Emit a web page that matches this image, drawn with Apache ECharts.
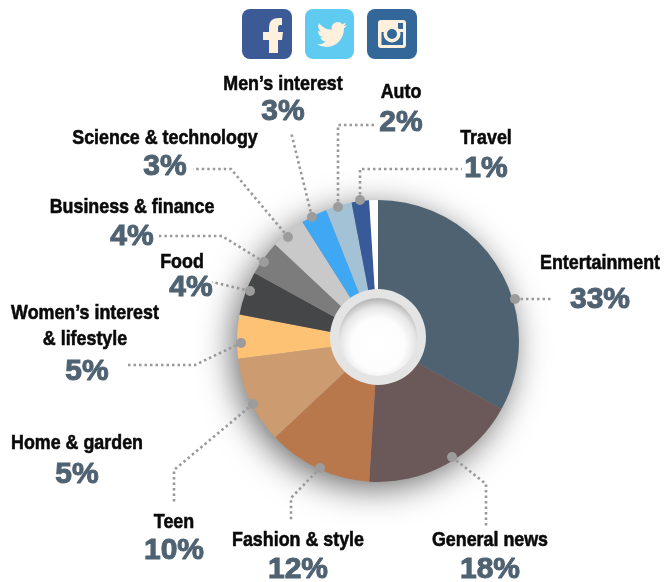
<!DOCTYPE html>
<html><head><meta charset="utf-8">
<style>html,body{margin:0;padding:0;background:#fff}#c{width:664px;height:582px}</style>
<script src="https://cdn.jsdelivr.net/npm/echarts@6/dist/echarts.min.js"></script>
</head><body><div id="c"></div>
<script>
const categories=["Entertainment","General news","Fashion & style","Teen","Women’s interest\n& lifestyle","Home & garden","Food","Business & finance","Science & technology","Men’s interest","Auto","Travel"];
const values=[33,18,12,10,5,5,4,4,3,3,2,1];
const sliceColors=["#4f6272","#6b5858","#b9784b","#cc9c70","#fdc274","#454648","#7c7c7c","#c9c9c9","#3ea8f5","#a3c2d6","#385a98","#ffffff"];
const nameAt=[[600,263],[490,540],[298,540],[174,522],[85,326],[77,443],[182,262],[132,207],[165,138],[283,84],[401,92],[486,138]];
const valueAt=[[600,300],[490,570],[298,570],[174,551],[87,372],[77,475],[191,288],[132,237],[165,167],[283,112],[401,123],[486,169]];
const leaders=[
 [[515,299],[553,299]],
 [[452,457],[486,484],[486,527]],
 [[320,468],[291,498],[291,520]],
 [[253,404],[174,470],[174,503]],
 [[241,343],[195,365],[128,365]],
 null,
 [[250,291],[212,282]],
 [[264,262],[222,236],[158,236]],
 [[288,237],[231,169],[193,169]],
 [[312,217],[291,132]],
 [[338,207],[338,125],[375,125]],
 [[360,200],[360,169],[462,169]]
];
const cx=378,cy=341,R=141;
const NAMEFONT='"Liberation Sans","Arial",sans-serif';
const VALFONT='"Liberation Sans",sans-serif';
const cream='#fdf0dc';
const bird="M23.953 4.57a10 10 0 0 1-2.825.775a4.958 4.958 0 0 0 2.163-2.723c-.951.555-2.005.959-3.127 1.184a4.92 4.92 0 0 0-8.384 4.482C7.69 8.095 4.067 6.13 1.64 3.162a4.822 4.822 0 0 0-.666 2.475c0 1.71.87 3.213 2.188 4.096a4.904 4.904 0 0 1-2.228-.616v.06a4.923 4.923 0 0 0 3.946 4.827a4.996 4.996 0 0 1-2.212.085a4.936 4.936 0 0 0 4.604 3.417a9.867 9.867 0 0 1-6.102 2.105c-.39 0-.779-.023-1.17-.067a13.995 13.995 0 0 0 7.557 2.209c9.053 0 13.998-7.496 13.998-13.985c0-.21 0-.42-.015-.63A9.935 9.935 0 0 0 24 4.59z";
const fGlyph="M269 53V40H263V32H269V27Q269 18 279 18H282V25H280Q278 25 278 28V32H283L282 40H278V53Z";
const g=[];
// shadow disc under the pie
g.push({type:'circle',z:-1,shape:{cx:cx,cy:cy,r:R-1},style:{fill:'#888',shadowBlur:34,shadowColor:'rgba(0,0,0,0.6)',shadowOffsetX:-5,shadowOffsetY:7}});
// centre ring
g.push({type:'circle',z:100,shape:{cx:378,cy:337,r:48},style:{fill:'#e4e4e4'}});
g.push({type:'circle',z:101,shape:{cx:378,cy:337,r:39},style:{fill:{type:'radial',x:0.5,y:0.6,r:0.62,colorStops:[{offset:0,color:'#ffffff'},{offset:0.55,color:'#fdfdfd'},{offset:0.78,color:'#e6e6e6'},{offset:1,color:'#a8a8a8'}]}}});
// icons
g.push({type:'rect',z:10,shape:{x:242,y:9,width:50,height:50,r:8},style:{fill:'#3c5a96'}});
g.push({type:'rect',z:10,shape:{x:305,y:9,width:49,height:50,r:8},style:{fill:'#5fcbf1'}});
g.push({type:'rect',z:10,shape:{x:367,y:9,width:50,height:50,r:8},style:{fill:'#33679a'}});
g.push({type:'rect',z:11,shape:{x:378,y:20,width:28,height:28,r:3},style:{fill:cream}});
g.push({type:'rect',z:12,shape:{x:381.5,y:32,width:21.5,height:13},style:{fill:'#33679a'}});
g.push({type:'rect',z:12,shape:{x:398,y:23,width:5,height:6},style:{fill:'#33679a'}});
g.push({type:'circle',z:13,shape:{cx:392,cy:34,r:8.5},style:{fill:cream}});
g.push({type:'circle',z:14,shape:{cx:392,cy:34,r:5},style:{fill:'#33679a'}});
// leaders
leaders.forEach(function(pts){
 if(!pts)return;
 g.push({type:'polyline',z:20,shape:{points:pts},style:{fill:null,stroke:'#999',lineWidth:2.6,lineDash:[2.5,3]}});
 g.push({type:'circle',z:21,shape:{cx:pts[0][0],cy:pts[0][1],r:5},style:{fill:'#9c9c9c'}});
});
// labels
categories.forEach(function(n,i){
 g.push({type:'text',z:30,x:nameAt[i][0],y:nameAt[i][1],scaleX:0.85,style:{text:n,font:'bold 21px '+NAMEFONT,fill:'#0a0a0a',stroke:'#0a0a0a',lineWidth:0.6,align:'center',verticalAlign:'middle',lineHeight:26}});
 g.push({type:'text',z:30,x:valueAt[i][0],y:valueAt[i][1],style:{text:values[i]+'%',font:'900 30px '+VALFONT,fill:'#4f6272',stroke:'#4f6272',lineWidth:1,align:'center',verticalAlign:'middle'}});
});
const chart=echarts.init(document.getElementById('c'),null,{renderer:'canvas'});
chart.setOption({
 animation:false,
 backgroundColor:'#fff',
 graphic:{elements:g},
 series:[
 {type:'pie',center:[cx,cy],radius:[0,R],startAngle:90,clockwise:true,silent:true,z:2,
  label:{show:false},labelLine:{show:false},
  itemStyle:{borderWidth:0},
  data:categories.map(function(n,i){return {name:n,value:values[i],itemStyle:{color:sliceColors[i]}};})},
 {type:'custom',coordinateSystem:'none',silent:true,z:50,data:[0],renderItem:function(){
   return {type:'group',children:[
    {type:'path',shape:{pathData:fGlyph,layout:'cover',x:263,y:18,width:20,height:35},style:{fill:cream}},
    {type:'path',shape:{pathData:bird,layout:'cover',x:317,y:22,width:30,height:25},style:{fill:cream}}
   ]};
 }}
 ]
});
</script></body></html>
